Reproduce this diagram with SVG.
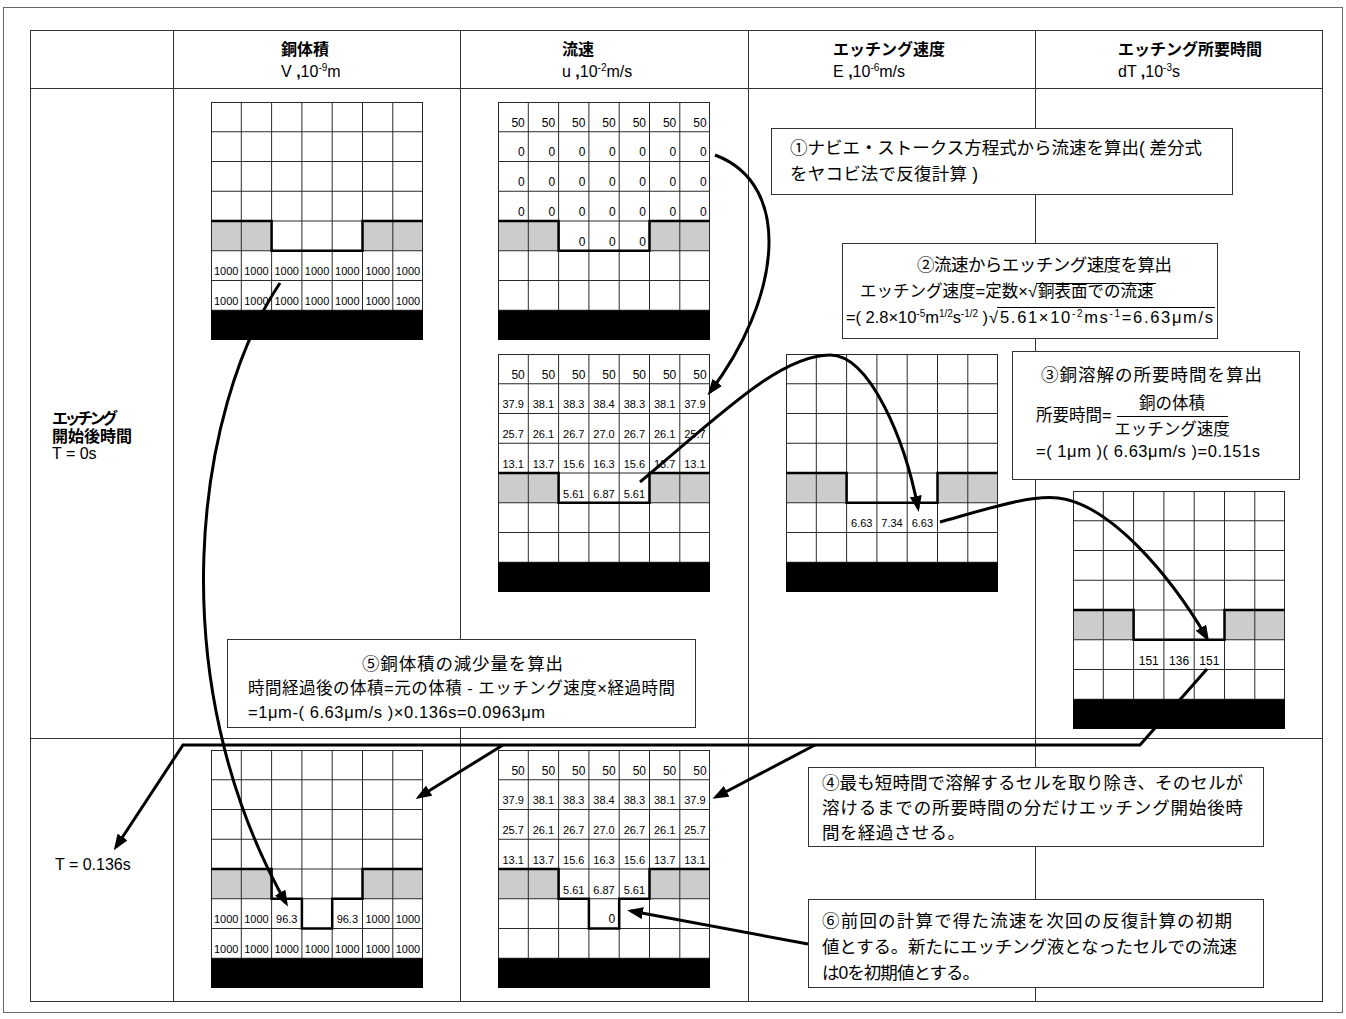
<svg xmlns="http://www.w3.org/2000/svg" xmlns:xlink="http://www.w3.org/1999/xlink" width="1346" height="1019" viewBox="0 0 1346 1019">
<style>
text { font-family: "Liberation Sans", "Noto Sans CJK JP", sans-serif; fill: #000; }
.hb { font-size: 16px; font-weight: bold; }
.h { font-size: 16px; }
.sup { font-size: 10px; }
.c { font-size: 11px; text-anchor: middle; }
.r { font-size: 12px; text-anchor: end; }
.c12 { font-size: 12px; text-anchor: middle; }
.bt { font-size: 17.5px; }
.bm { font-size: 16.5px; }
.box { fill: #fff; stroke: #333; stroke-width: 1; }
.tl { stroke: #333; stroke-width: 1; fill: none; }
.ol { stroke: #000; stroke-width: 2.5; fill: none; }
.cn { fill: none; stroke: #000; stroke-width: 3; marker-end: url(#ah); }
</style>
<defs>
<marker id="ah" markerUnits="userSpaceOnUse" markerWidth="16" markerHeight="12" viewBox="0 0 16 12" refX="12" refY="6" orient="auto">
<path d="M0,0 L16,6 L0,12 Z" fill="#000"/>
</marker>
<g id="grid">
<rect x="0" y="0" width="212" height="238" fill="#fff"/>
<rect x="0.5" y="119" width="60.1" height="29.75" fill="#ccc"/>
<rect x="151.5" y="119" width="60" height="29.75" fill="#ccc"/>
<path d="M0.5,0V238M30.3,0V238M60.6,0V238M90.9,0V238M121.2,0V238M151.5,0V238M181.8,0V238M211.5,0V238M0,0.5H212M0,29.75H212M0,59.5H212M0,89.25H212M0,119H212M0,148.75H212M0,178.5H212M0,208.25H212" stroke="#2a2a2a" stroke-width="1" fill="none"/>
<rect x="0" y="208.25" width="212" height="29.75" fill="#000"/>
</g>
</defs>
<rect x="0" y="0" width="1346" height="1019" fill="#fff"/>
<rect x="3.5" y="7.5" width="1339" height="1005" fill="none" stroke="#666" stroke-width="1"/>

<g id="table">
<rect class="tl" x="30.5" y="30.5" width="1292" height="971"/>
<path class="tl" d="M173.5,30V1002M460.5,30V1002M748.5,30V1002M1035.5,30V1002M30,88.5H1323M30,738.5H1323"/>
<text class="hb" x="281" y="55">銅体積</text>
<text class="h" x="281" y="77">V <tspan font-weight="bold">,</tspan>10<tspan class="sup" dy="-6">-9</tspan><tspan dy="6">m</tspan></text>
<text class="hb" x="562" y="55">流速</text>
<text class="h" x="562" y="77">u <tspan font-weight="bold">,</tspan>10<tspan class="sup" dy="-6">-2</tspan><tspan dy="6">m/s</tspan></text>
<text class="hb" x="833" y="55">エッチング速度</text>
<text class="h" x="833" y="77">E <tspan font-weight="bold">,</tspan>10<tspan class="sup" dy="-6">-6</tspan><tspan dy="6">m/s</tspan></text>
<text class="hb" x="1118" y="55">エッチング所要時間</text>
<text class="h" x="1118" y="77">dT <tspan font-weight="bold">,</tspan>10<tspan class="sup" dy="-6">-3</tspan><tspan dy="6">s</tspan></text>
<text class="hb" x="52" y="424" textLength="66">エッチング</text>
<text class="hb" x="52" y="442">開始後時間</text>
<text class="h" x="52" y="459">T = 0s</text>
<text class="h" x="55" y="870">T = 0.136s</text>
</g>

<g id="grid-v0" transform="translate(211,102)">
<use xlink:href="#grid"/>
<path class="ol" d="M0,119H60.6V148.75H151.5V119H212"/>
<text x="15.15" y="173.25" class="c">1000</text><text x="45.45" y="173.25" class="c">1000</text><text x="75.75" y="173.25" class="c">1000</text><text x="106.05" y="173.25" class="c">1000</text><text x="136.35" y="173.25" class="c">1000</text><text x="166.65" y="173.25" class="c">1000</text><text x="196.95" y="173.25" class="c">1000</text>
<text x="15.15" y="203" class="c">1000</text><text x="45.45" y="203" class="c">1000</text><text x="75.75" y="203" class="c">1000</text><text x="106.05" y="203" class="c">1000</text><text x="136.35" y="203" class="c">1000</text><text x="166.65" y="203" class="c">1000</text><text x="196.95" y="203" class="c">1000</text>
</g>

<g id="grid-u0a" transform="translate(498,102)">
<use xlink:href="#grid"/>
<path class="ol" d="M0,119H60.6V148.75H151.5V119H212"/>
<text class="r" x="26.8" y="24.5">50</text><text class="r" x="57.1" y="24.5">50</text><text class="r" x="87.4" y="24.5">50</text><text class="r" x="117.7" y="24.5">50</text><text class="r" x="148" y="24.5">50</text><text class="r" x="178.3" y="24.5">50</text><text class="r" x="208.6" y="24.5">50</text>
<text class="r" x="26.8" y="54.25">0</text><text class="r" x="57.1" y="54.25">0</text><text class="r" x="87.4" y="54.25">0</text><text class="r" x="117.7" y="54.25">0</text><text class="r" x="148" y="54.25">0</text><text class="r" x="178.3" y="54.25">0</text><text class="r" x="208.6" y="54.25">0</text>
<text class="r" x="26.8" y="84">0</text><text class="r" x="57.1" y="84">0</text><text class="r" x="87.4" y="84">0</text><text class="r" x="117.7" y="84">0</text><text class="r" x="148" y="84">0</text><text class="r" x="178.3" y="84">0</text><text class="r" x="208.6" y="84">0</text>
<text class="r" x="26.8" y="113.75">0</text><text class="r" x="57.1" y="113.75">0</text><text class="r" x="87.4" y="113.75">0</text><text class="r" x="117.7" y="113.75">0</text><text class="r" x="148" y="113.75">0</text><text class="r" x="178.3" y="113.75">0</text><text class="r" x="208.6" y="113.75">0</text>
<text class="r" x="87.4" y="143.5">0</text><text class="r" x="117.7" y="143.5">0</text><text class="r" x="148" y="143.5">0</text>
</g>

<g id="grid-u0b" transform="translate(498,354)">
<use xlink:href="#grid"/>
<path class="ol" d="M0,119H60.6V148.75H151.5V119H212"/>
<text class="r" x="26.8" y="24.5">50</text><text class="r" x="57.1" y="24.5">50</text><text class="r" x="87.4" y="24.5">50</text><text class="r" x="117.7" y="24.5">50</text><text class="r" x="148" y="24.5">50</text><text class="r" x="178.3" y="24.5">50</text><text class="r" x="208.6" y="24.5">50</text>
<text class="c" x="15.15" y="54.25">37.9</text><text class="c" x="45.45" y="54.25">38.1</text><text class="c" x="75.75" y="54.25">38.3</text><text class="c" x="106.05" y="54.25">38.4</text><text class="c" x="136.35" y="54.25">38.3</text><text class="c" x="166.65" y="54.25">38.1</text><text class="c" x="196.95" y="54.25">37.9</text>
<text class="c" x="15.15" y="84">25.7</text><text class="c" x="45.45" y="84">26.1</text><text class="c" x="75.75" y="84">26.7</text><text class="c" x="106.05" y="84">27.0</text><text class="c" x="136.35" y="84">26.7</text><text class="c" x="166.65" y="84">26.1</text><text class="c" x="196.95" y="84">25.7</text>
<text class="c" x="15.15" y="113.75">13.1</text><text class="c" x="45.45" y="113.75">13.7</text><text class="c" x="75.75" y="113.75">15.6</text><text class="c" x="106.05" y="113.75">16.3</text><text class="c" x="136.35" y="113.75">15.6</text><text class="c" x="166.65" y="113.75">13.7</text><text class="c" x="196.95" y="113.75">13.1</text>
<text class="c" x="75.75" y="143.5">5.61</text><text class="c" x="106.05" y="143.5">6.87</text><text class="c" x="136.35" y="143.5">5.61</text>
</g>

<g id="grid-e0" transform="translate(786,354)">
<use xlink:href="#grid"/>
<path class="ol" d="M0,119H60.6V148.75H151.5V119H212"/>
<text class="c" x="75.75" y="173.25">6.63</text><text class="c" x="106.05" y="173.25">7.34</text><text class="c" x="136.35" y="173.25">6.63</text>
</g>

<g id="grid-dt0" transform="translate(1073,491)">
<use xlink:href="#grid"/>
<path class="ol" d="M0,119H60.6V148.75H151.5V119H212"/>
<text class="c12" x="75.75" y="173.75">151</text><text class="c12" x="106.05" y="173.75">136</text><text class="c12" x="136.35" y="173.75">151</text>
</g>

<g id="grid-v1" transform="translate(211,750)">
<use xlink:href="#grid"/>
<path class="ol" d="M0,119H60.6V148.75H90.9V178.5H121.2V148.75H151.5V119H212"/>
<text class="c" x="15.15" y="173.25">1000</text><text class="c" x="45.45" y="173.25">1000</text><text class="c" x="75.75" y="173.25">96.3</text><text class="c" x="136.35" y="173.25">96.3</text><text class="c" x="166.65" y="173.25">1000</text><text class="c" x="196.95" y="173.25">1000</text>
<text class="c" x="15.15" y="203">1000</text><text class="c" x="45.45" y="203">1000</text><text class="c" x="75.75" y="203">1000</text><text class="c" x="106.05" y="203">1000</text><text class="c" x="136.35" y="203">1000</text><text class="c" x="166.65" y="203">1000</text><text class="c" x="196.95" y="203">1000</text>
</g>

<g id="grid-u1" transform="translate(498,750)">
<use xlink:href="#grid"/>
<path class="ol" d="M0,119H60.6V148.75H90.9V178.5H121.2V148.75H151.5V119H212"/>
<text class="r" x="26.8" y="24.5">50</text><text class="r" x="57.1" y="24.5">50</text><text class="r" x="87.4" y="24.5">50</text><text class="r" x="117.7" y="24.5">50</text><text class="r" x="148" y="24.5">50</text><text class="r" x="178.3" y="24.5">50</text><text class="r" x="208.6" y="24.5">50</text>
<text class="c" x="15.15" y="54.25">37.9</text><text class="c" x="45.45" y="54.25">38.1</text><text class="c" x="75.75" y="54.25">38.3</text><text class="c" x="106.05" y="54.25">38.4</text><text class="c" x="136.35" y="54.25">38.3</text><text class="c" x="166.65" y="54.25">38.1</text><text class="c" x="196.95" y="54.25">37.9</text>
<text class="c" x="15.15" y="84">25.7</text><text class="c" x="45.45" y="84">26.1</text><text class="c" x="75.75" y="84">26.7</text><text class="c" x="106.05" y="84">27.0</text><text class="c" x="136.35" y="84">26.7</text><text class="c" x="166.65" y="84">26.1</text><text class="c" x="196.95" y="84">25.7</text>
<text class="c" x="15.15" y="113.75">13.1</text><text class="c" x="45.45" y="113.75">13.7</text><text class="c" x="75.75" y="113.75">15.6</text><text class="c" x="106.05" y="113.75">16.3</text><text class="c" x="136.35" y="113.75">15.6</text><text class="c" x="166.65" y="113.75">13.7</text><text class="c" x="196.95" y="113.75">13.1</text>
<text class="c" x="75.75" y="143.5">5.61</text><text class="c" x="106.05" y="143.5">6.87</text><text class="c" x="136.35" y="143.5">5.61</text>
<text class="r" x="117.2" y="173.25">0</text>
</g>

<g id="box1">
<rect class="box" x="771.5" y="128.5" width="461" height="66"/>
<text class="bt" x="790" y="154" textLength="412">①ナビエ・ストークス方程式から流速を算出( 差分式</text>
<text class="bt" x="790" y="180" textLength="188">をヤコビ法で反復計算 )</text>
</g>

<g id="box2">
<rect class="box" x="842.5" y="243.5" width="375" height="95"/>
<text class="bt" x="917" y="271" font-size="17" textLength="255">②流速からエッチング速度を算出</text>
<text class="bm" x="860" y="297">エッチング速度=定数×</text>
<text class="bm" x="1028" y="297">√</text>
<text class="bm" x="1038" y="297">銅表面での流速</text>
<path d="M1036,283.5H1156" stroke="#000" stroke-width="1"/>
<text class="bm" x="846" y="323" textLength="142">=( 2.8×10<tspan class="sup" dy="-6">-5</tspan><tspan dy="6">m</tspan><tspan class="sup" dy="-6">1/2</tspan><tspan dy="6">s</tspan><tspan class="sup" dy="-6">-1/2</tspan><tspan dy="6"> )</tspan></text>
<text class="bm" x="989" y="323">√</text>
<text class="bm" x="1000" y="323" textLength="213">5.61×10<tspan class="sup" dy="-6">-2</tspan><tspan dy="6">ms</tspan><tspan class="sup" dy="-6">-1</tspan><tspan dy="6">=6.63μm/s</tspan></text>
<path d="M997,307.5H1215" stroke="#000" stroke-width="1"/>
</g>

<g id="box3">
<rect class="box" x="1012.5" y="351.5" width="287" height="128"/>
<text class="bt" x="1041" y="381" font-size="18" textLength="221">③銅溶解の所要時間を算出</text>
<text class="bm" x="1036" y="421" font-size="16">所要時間=</text>
<text class="bm" x="1172" y="409" font-size="16" text-anchor="middle">銅の体積</text>
<path d="M1117,416.5H1228" stroke="#000" stroke-width="1"/>
<text class="bm" x="1172" y="435" font-size="16" text-anchor="middle">エッチング速度</text>
<text class="bm" x="1036" y="457" font-size="16" textLength="224">=( 1μm )( 6.63μm/s )=0.151s</text>
</g>

<g id="box5">
<rect class="box" x="227.5" y="639.5" width="468" height="88"/>
<text class="bt" x="362" y="670" font-size="18" textLength="201">⑤銅体積の減少量を算出</text>
<text class="bm" x="248" y="694" textLength="427">時間経過後の体積=元の体積 - エッチング速度×経過時間</text>
<text class="bm" x="248" y="718" textLength="297">=1μm-( 6.63μm/s )×0.136s=0.0963μm</text>
</g>

<g id="box4">
<rect class="box" x="808.5" y="767.5" width="455" height="79"/>
<text class="bt" x="822" y="789" textLength="421">④最も短時間で溶解するセルを取り除き、そのセルが</text>
<text class="bt" x="822" y="814" textLength="421">溶けるまでの所要時間の分だけエッチング開始後時</text>
<text class="bt" x="822" y="839" textLength="143">間を経過させる。</text>
</g>

<g id="box6">
<rect class="box" x="808.5" y="899.5" width="455" height="88"/>
<text class="bt" x="822" y="927" textLength="410">⑥前回の計算で得た流速を次回の反復計算の初期</text>
<text class="bt" x="822" y="953" textLength="415">値とする。新たにエッチング液となったセルでの流速</text>
<text class="bt" x="822" y="979" textLength="158">は0を初期値とする。</text>
</g>

<g id="connectors">
<path class="cn" d="M715,155 C795,185 780,300 710,392"/>
<path class="cn" d="M640,482 C720,415 780,355 830,355 C870,355 905,440 918,508"/>
<path class="cn" d="M940,522 C990,508 1030,495 1058,498 C1110,504 1170,575 1207,638"/>
<path class="cn" d="M1207,669 L1140,745 L183,745 L116,847"/>
<path class="cn" d="M503,745 L419,797"/>
<path class="cn" d="M815,745 L716,797"/>
<path class="cn" d="M280,283 C195,410 160,680 286,903"/>
<path class="cn" d="M808,944 L631,911"/>
</g>
</svg>
